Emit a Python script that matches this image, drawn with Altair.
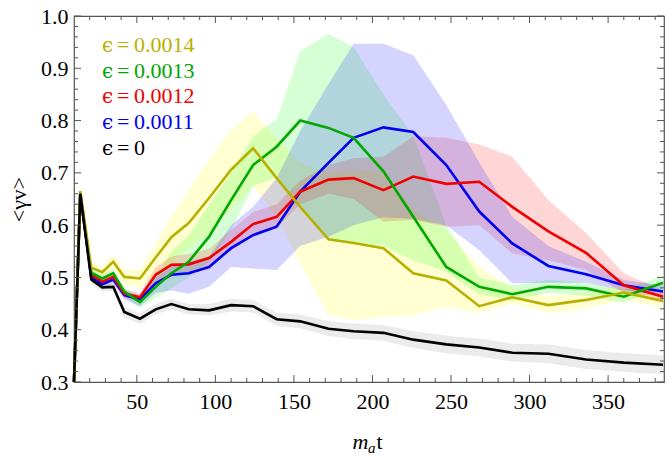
import altair as alt
import pandas as pd

# ---------------- data ----------------
x_vals = [10, 14, 21, 28, 35, 42, 52, 62, 72, 83, 96, 110, 124, 139, 154, 172, 188, 207, 226, 247, 268, 289, 312, 336, 360, 385]

labels = ["ϵ = 0.0014", "ϵ = 0.0013", "ϵ = 0.0012", "ϵ = 0.0011", "ϵ = 0"]

yellow = [0.30, 0.665, 0.519, 0.510, 0.530, 0.501, 0.498, 0.538, 0.577, 0.604, 0.652, 0.706, 0.747, 0.690, 0.635, 0.573, 0.566, 0.556, 0.508, 0.494, 0.445, 0.462, 0.447, 0.457, 0.471, 0.455]
yellow_hi = [0.30, 0.670, 0.530, 0.520, 0.545, 0.515, 0.515, 0.565, 0.616, 0.667, 0.725, 0.782, 0.818, 0.765, 0.720, 0.700, 0.706, 0.700, 0.630, 0.590, 0.520, 0.480, 0.465, 0.470, 0.485, 0.470]
yellow_lo = [0.30, 0.660, 0.508, 0.500, 0.515, 0.485, 0.480, 0.500, 0.530, 0.555, 0.585, 0.630, 0.675, 0.616, 0.527, 0.428, 0.418, 0.425, 0.427, 0.444, 0.432, 0.450, 0.432, 0.440, 0.458, 0.442]

green = [0.30, 0.660, 0.509, 0.498, 0.508, 0.473, 0.453, 0.482, 0.508, 0.530, 0.578, 0.648, 0.715, 0.750, 0.800, 0.786, 0.767, 0.703, 0.616, 0.520, 0.482, 0.468, 0.482, 0.479, 0.463, 0.490]
green_hi = [0.30, 0.665, 0.517, 0.506, 0.516, 0.481, 0.462, 0.500, 0.550, 0.580, 0.640, 0.700, 0.770, 0.802, 0.933, 0.966, 0.940, 0.850, 0.770, 0.600, 0.500, 0.485, 0.495, 0.490, 0.476, 0.503]
green_lo = [0.30, 0.655, 0.500, 0.490, 0.500, 0.465, 0.442, 0.460, 0.480, 0.500, 0.530, 0.590, 0.675, 0.690, 0.640, 0.570, 0.565, 0.560, 0.533, 0.511, 0.468, 0.455, 0.470, 0.465, 0.452, 0.478]

red = [0.30, 0.660, 0.505, 0.492, 0.501, 0.469, 0.462, 0.505, 0.524, 0.525, 0.537, 0.568, 0.602, 0.616, 0.664, 0.687, 0.690, 0.667, 0.693, 0.679, 0.683, 0.635, 0.588, 0.547, 0.485, 0.463]
red_hi = [0.30, 0.663, 0.512, 0.500, 0.508, 0.477, 0.470, 0.520, 0.540, 0.545, 0.555, 0.590, 0.625, 0.640, 0.685, 0.715, 0.728, 0.731, 0.770, 0.767, 0.754, 0.731, 0.648, 0.585, 0.508, 0.475]
red_lo = [0.30, 0.657, 0.498, 0.484, 0.494, 0.461, 0.452, 0.485, 0.505, 0.505, 0.520, 0.550, 0.580, 0.595, 0.640, 0.660, 0.650, 0.607, 0.610, 0.597, 0.600, 0.546, 0.533, 0.514, 0.470, 0.452]

blue = [0.30, 0.660, 0.500, 0.487, 0.496, 0.466, 0.458, 0.489, 0.505, 0.508, 0.520, 0.556, 0.581, 0.597, 0.664, 0.719, 0.767, 0.787, 0.778, 0.715, 0.626, 0.565, 0.522, 0.506, 0.485, 0.473]
blue_hi = [0.30, 0.663, 0.507, 0.494, 0.503, 0.473, 0.466, 0.500, 0.520, 0.530, 0.540, 0.600, 0.635, 0.690, 0.780, 0.870, 0.947, 0.947, 0.925, 0.830, 0.720, 0.616, 0.560, 0.530, 0.495, 0.485]
blue_lo = [0.30, 0.657, 0.492, 0.480, 0.488, 0.458, 0.445, 0.470, 0.475, 0.469, 0.482, 0.520, 0.517, 0.514, 0.560, 0.578, 0.600, 0.615, 0.612, 0.600, 0.552, 0.489, 0.490, 0.490, 0.475, 0.465]

black = [0.30, 0.660, 0.496, 0.481, 0.482, 0.434, 0.421, 0.439, 0.449, 0.439, 0.437, 0.447, 0.445, 0.420, 0.416, 0.402, 0.397, 0.394, 0.381, 0.372, 0.366, 0.356, 0.354, 0.343, 0.337, 0.333]
black_hi = [0.30, 0.663, 0.504, 0.489, 0.490, 0.444, 0.431, 0.449, 0.459, 0.449, 0.449, 0.459, 0.457, 0.433, 0.429, 0.416, 0.412, 0.409, 0.397, 0.389, 0.383, 0.373, 0.372, 0.361, 0.355, 0.351]
black_lo = [0.30, 0.657, 0.488, 0.473, 0.474, 0.424, 0.411, 0.429, 0.439, 0.429, 0.427, 0.435, 0.433, 0.407, 0.403, 0.388, 0.382, 0.379, 0.365, 0.355, 0.349, 0.339, 0.336, 0.325, 0.319, 0.315]

x_major = [50, 100, 150, 200, 250, 300, 350]
x_minor = [20, 30, 40, 60, 70, 80, 90, 110, 120, 130, 140, 160, 170, 180, 190, 210, 220, 230, 240,
           260, 270, 280, 290, 310, 320, 330, 340, 360, 370, 380]
y_major = [0.3, 0.4, 0.5, 0.6, 0.7, 0.8, 0.9, 1.0]
y_minor = [0.32, 0.34, 0.36, 0.38, 0.42, 0.44, 0.46, 0.48, 0.52, 0.54, 0.56, 0.58, 0.62, 0.64, 0.66, 0.68,
           0.72, 0.74, 0.76, 0.78, 0.82, 0.84, 0.86, 0.88, 0.92, 0.94, 0.96, 0.98]

# ---------------- styles ----------------
W, H = 590, 366
FONT = "Liberation Serif"
EPS_FONT = "DejaVu Serif"
line_colors = ["#B8B000", "#00A800", "#F00000", "#0000F0", "#000000"]
band_colors = ["#FFFF00", "#00FF00", "#FF0000", "#0000FF", "#000000"]
band_opac = [0.18, 0.16, 0.16, 0.17, 0.08]
legend_y = [36, 62, 87, 113, 139]

xscale = alt.Scale(domain=[10, 385.6], nice=False, zero=False)
yscale = alt.Scale(domain=[0.3, 1.0], nice=False, zero=False)

x_axis = alt.Axis(values=x_major, format="d", ticks=False, domain=False, grid=False,
                  labelFont=FONT, labelFontSize=22, labelColor="black", labelPadding=9, title=None)
y_axis = alt.Axis(values=y_major, format=".1f", ticks=False, domain=False, grid=False,
                  labelFont=FONT, labelFontSize=22, labelColor="black", labelPadding=6,
                  title="<γv>", titleFont=FONT, titleFontSize=22, titleFontWeight="normal",
                  titleColor="black", titlePadding=10)


def X(field):
    return alt.X(field, scale=xscale, axis=x_axis)


def Y(field):
    return alt.Y(field, scale=yscale, axis=y_axis)


series = [
    (yellow, yellow_lo, yellow_hi),
    (green, green_lo, green_hi),
    (red, red_lo, red_hi),
    (blue, blue_lo, blue_hi),
    (black, black_lo, black_hi),
]

frames = []
for i, (ys, lo, hi) in enumerate(series):
    frames.append(pd.DataFrame({"x": x_vals, "y": ys, "lo": lo, "hi": hi, "s": labels[i]}))

layers = []
# bands
for i, df in enumerate(frames):
    layers.append(
        alt.Chart(df).mark_area(opacity=band_opac[i], color=band_colors[i]).encode(
            x=X("x:Q"), y=Y("lo:Q"), y2="hi:Q"
        )
    )
# lines (black last)
for i in [3, 2, 1, 0, 4]:
    layers.append(
        alt.Chart(frames[i]).mark_line(color=line_colors[i], strokeWidth=2.6, strokeJoin="miter").encode(
            x=X("x:Q"), y=Y("y:Q")
        )
    )

# inward ticks (frame style)
TICK = "#555555"
for vals, ln in [(x_major, 7), (x_minor, 4)]:
    d = pd.DataFrame({"x": vals})
    layers.append(alt.Chart(d).mark_rule(color=TICK, strokeWidth=1).encode(
        x=X("x:Q"), y=alt.value(H), y2=alt.value(H - ln)))
    layers.append(alt.Chart(d).mark_rule(color=TICK, strokeWidth=1).encode(
        x=X("x:Q"), y=alt.value(0), y2=alt.value(ln)))
for vals, ln in [(y_major, 7), (y_minor, 4)]:
    d = pd.DataFrame({"y": vals})
    layers.append(alt.Chart(d).mark_rule(color=TICK, strokeWidth=1).encode(
        y=Y("y:Q"), x=alt.value(0), x2=alt.value(ln)))
    layers.append(alt.Chart(d).mark_rule(color=TICK, strokeWidth=1).encode(
        y=Y("y:Q"), x=alt.value(W), x2=alt.value(W - ln)))

# legend text: epsilon glyph (serif), "=" and value
for i, lab in enumerate(labels):
    eps, eq, val = lab.split(" ")
    for txt, px, fnt, fs in [(eps, 28, EPS_FONT, 20), (eq, 43, FONT, 22), (val, 60, FONT, 22)]:
        layers.append(
            alt.Chart(pd.DataFrame({"t": [txt]})).mark_text(
                font=fnt, fontSize=fs, align="left", baseline="alphabetic", color=line_colors[i]
            ).encode(text="t:N", x=alt.value(px), y=alt.value(legend_y[i]))
        )

# x-axis title  m_a t
x_title_parts = [("m", 278.5, 433, 22, "italic"), ("a", 294, 437, 15, "italic"), ("t", 302.5, 433, 22, "normal")]
for txt, px, py, fs, st in x_title_parts:
    layers.append(
        alt.Chart(pd.DataFrame({"t": [txt]})).mark_text(
            font=FONT, fontSize=fs, fontStyle=st, align="left", baseline="alphabetic", color="black"
        ).encode(text="t:N", x=alt.value(px), y=alt.value(py))
    )

chart = alt.layer(*layers).properties(
    width=W, height=H,
    autosize=alt.AutoSizeParams(type="none"),
    padding={"left": 74, "top": 16, "right": 7, "bottom": 74},
    background="white",
).configure_view(stroke="#555555", strokeWidth=1.2)

chart.save("out.html", embed_options={"renderer": "svg", "actions": False})
